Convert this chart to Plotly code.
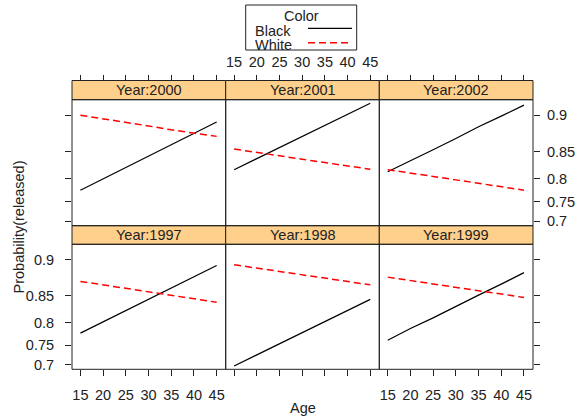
import math
import plotly.graph_objects as go

# ---------------- data ----------------
ages = [15, 20, 25, 30, 35, 40, 45]
years = ["1997", "1998", "1999", "2000", "2001", "2002"]
black = {
    "1997": [0.778, 0.802, 0.824, 0.844, 0.862, 0.879, 0.893],
    "1998": [0.697, 0.726, 0.754, 0.779, 0.802, 0.824, 0.844],
    "1999": [0.762, 0.788, 0.810, 0.832, 0.851, 0.868, 0.884],
    "2000": [0.776, 0.800, 0.822, 0.842, 0.861, 0.877, 0.892],
    "2001": [0.818, 0.838, 0.856, 0.873, 0.888, 0.901, 0.913],
    "2002": [0.814, 0.835, 0.853, 0.870, 0.886, 0.899, 0.911],
}
white = {
    "1997": [0.872, 0.867, 0.861, 0.856, 0.850, 0.845, 0.839],
    "1998": [0.894, 0.890, 0.886, 0.881, 0.877, 0.872, 0.867],
    "1999": [0.878, 0.873, 0.868, 0.863, 0.858, 0.853, 0.847],
    "2000": [0.900, 0.896, 0.892, 0.887, 0.882, 0.878, 0.873],
    "2001": [0.854, 0.849, 0.843, 0.837, 0.831, 0.825, 0.819],
    "2002": [0.818, 0.811, 0.805, 0.798, 0.791, 0.784, 0.776],
}
x_ticks = [15, 20, 25, 30, 35, 40, 45]
y_ticks = [0.7, 0.75, 0.8, 0.85, 0.9]
y_tick_labels = ["0.7", "0.75", "0.8", "0.85", "0.9"]


def logit(p):
    return math.log(p / (1 - p))


# ---------------- geometry (pixels) ----------------
W, H = 577, 418
L, R, T, B = 72, 44, 80, 48
PW, PH = W - L - R, H - T - B
col_edges = [72, 225.7, 379.3, 533]
row_top = [(80.5, 99.7, 225.7), (225.7, 244.3, 369.3)]  # (strip top, panel top, panel bottom)


def fx(px):
    return (px - L) / PW


def fy(py):
    return (T + PH - py) / PH


def clamp(v):
    return max(0.0, min(1.0, v))


FONT = "Liberation Sans, Arial, sans-serif"
FS = 14.5
TXT = "#222222"
XR = [13.15, 46.99]
YR = [0.79, 2.395]
STRIP = "#FFD08C"
DASH = "7px,4px"

fig = go.Figure()
layout = dict(
    width=W, height=H, autosize=False,
    margin=dict(l=L, r=R, t=T, b=B, pad=0, autoexpand=False),
    paper_bgcolor="white", plot_bgcolor="white",
    showlegend=False,
    font=dict(family=FONT, size=FS, color=TXT),
)
shapes = []
annotations = []

# panel order: top row 2000,2001,2002 ; bottom row 1997,1998,1999
panel_pos = {
    "1997": (1, 0), "1998": (1, 1), "1999": (1, 2),
    "2000": (0, 0), "2001": (0, 1), "2002": (0, 2),
}

for i, yr in enumerate(years, start=1):
    r, c = panel_pos[yr]
    st, pt, pb = row_top[r]
    x0, x1 = col_edges[c], col_edges[c + 1]
    xd = [clamp(fx(x0)), clamp(fx(x1))]
    yd = [clamp(fy(pb)), clamp(fy(pt))]
    xa = dict(domain=xd, range=XR, showgrid=False, zeroline=False, showline=False,
              automargin=False,
              tickvals=x_ticks, ticktext=[str(t) for t in x_ticks],
              ticks="outside", ticklen=6, tickcolor="#222", tickwidth=1,
              tickfont=dict(family=FONT, size=FS, color=TXT))
    if r == 1:
        xa.update(anchor="y%d" % i, side="bottom", showticklabels=(c != 1),
                  ticklabelstandoff=6)
    else:
        xa.update(anchor="free", position=clamp(fy(st)), side="top", showticklabels=(c == 1),
                  ticklabelstandoff=2)
    ya = dict(domain=yd, range=YR, anchor="x%d" % i, showgrid=False, zeroline=False,
              showline=False, automargin=False,
              tickvals=[logit(p) for p in y_ticks], ticktext=y_tick_labels,
              tickcolor="#222", tickwidth=1, ticklen=6,
              tickfont=dict(family=FONT, size=FS, color=TXT))
    if c == 0:
        ya.update(side="left", ticks="outside", showticklabels=(r == 1), ticklabelstandoff=8)
    elif c == 2:
        ya.update(side="right", ticks="outside", showticklabels=(r == 0), ticklabelstandoff=4)
    else:
        ya.update(ticks="", showticklabels=False)
    layout["xaxis%d" % i if i > 1 else "xaxis"] = xa
    layout["yaxis%d" % i if i > 1 else "yaxis"] = ya

    xs = "x%d" % i if i > 1 else "x"
    ys = "y%d" % i if i > 1 else "y"
    fig.add_trace(go.Scatter(x=ages, y=[logit(p) for p in black[yr]], mode="lines",
                             line=dict(color="black", width=1.2), xaxis=xs, yaxis=ys,
                             name="Black"))
    fig.add_trace(go.Scatter(x=ages, y=[logit(p) for p in white[yr]], mode="lines",
                             line=dict(color="#FF0000", width=1.5, dash=DASH),
                             xaxis=xs, yaxis=ys, name="White"))

    # strip
    shapes.append(dict(type="rect", xref="paper", yref="paper",
                       x0=fx(x0), x1=fx(x1), y0=fy(pt), y1=fy(st),
                       fillcolor=STRIP, line=dict(color="#222", width=1), layer="below"))
    annotations.append(dict(text="Year:%s" % yr, xref="paper", yref="paper",
                            x=(fx(x0) + fx(x1)) / 2, y=(fy(pt) + fy(st)) / 2,
                            showarrow=False, xanchor="center", yanchor="middle",
                            font=dict(family=FONT, size=FS, color=TXT)))
    # panel border
    shapes.append(dict(type="rect", xref="paper", yref="paper",
                       x0=fx(x0), x1=fx(x1), y0=fy(pb), y1=fy(pt),
                       line=dict(color="#222", width=1), layer="above"))

# axis titles
annotations.append(dict(text="Age", xref="paper", yref="paper", x=fx(302.5), y=fy(408),
                        showarrow=False, xanchor="center", yanchor="middle",
                        font=dict(family=FONT, size=FS, color=TXT)))
annotations.append(dict(text="Probability(released)", xref="paper", yref="paper",
                        x=fx(18.5), y=fy(227), textangle=-90, showarrow=False,
                        xanchor="center", yanchor="middle",
                        font=dict(family=FONT, size=FS, color=TXT)))

# legend (key)
shapes.append(dict(type="rect", xref="paper", yref="paper",
                   x0=fx(245.7), x1=fx(356.7), y0=fy(50), y1=fy(5),
                   line=dict(color="#222", width=1), fillcolor="white"))
annotations.append(dict(text="Color", xref="paper", yref="paper", x=fx(301.7), y=fy(16),
                        showarrow=False, xanchor="center", yanchor="middle",
                        font=dict(family=FONT, size=FS, color=TXT)))
annotations.append(dict(text="Black", xref="paper", yref="paper", x=fx(254), y=fy(30),
                        showarrow=False, xanchor="left", yanchor="middle", borderpad=0,
                        height=13, valign="middle",
                        font=dict(family=FONT, size=FS, color=TXT)))
annotations.append(dict(text="White", xref="paper", yref="paper", x=fx(254), y=fy(44.5),
                        showarrow=False, xanchor="left", yanchor="middle", borderpad=0,
                        height=13, valign="middle",
                        font=dict(family=FONT, size=FS, color=TXT)))
shapes.append(dict(type="line", xref="paper", yref="paper", x0=fx(308), x1=fx(352),
                   y0=fy(28.3), y1=fy(28.3), line=dict(color="black", width=1.2)))
shapes.append(dict(type="line", xref="paper", yref="paper", x0=fx(308), x1=fx(352),
                   y0=fy(42.7), y1=fy(42.7), line=dict(color="#FF0000", width=1.5, dash=DASH)))

layout["shapes"] = shapes
layout["annotations"] = annotations
fig.update_layout(**layout)
fig.write_html("out.html", config={"displayModeBar": False},
               post_script="document.body.style.margin='0';document.body.style.padding='0';")
